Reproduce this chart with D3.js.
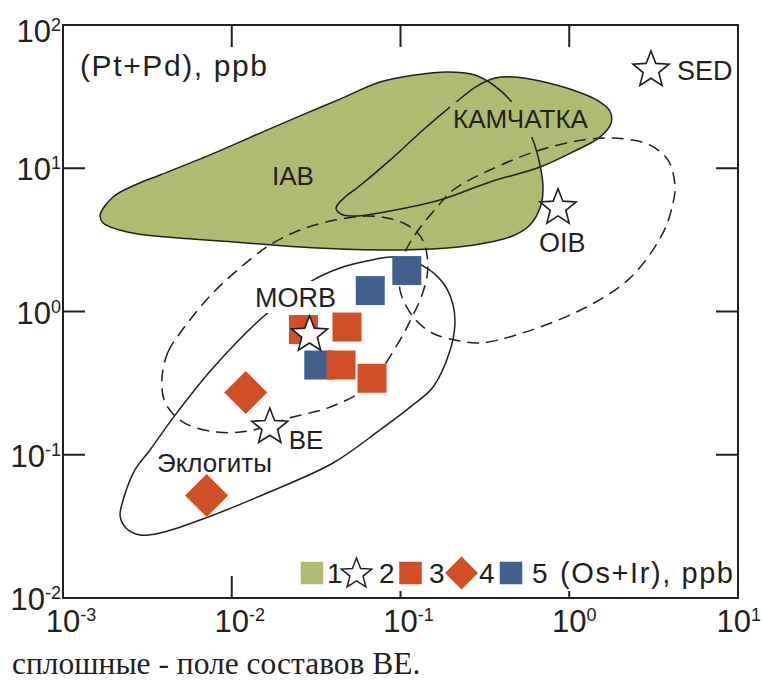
<!DOCTYPE html>
<html>
<head>
<meta charset="utf-8">
<script src="https://cdn.jsdelivr.net/npm/d3@7"></script>
<style>
  html, body { margin: 0; padding: 0; background: #fff; }
  svg { display: block; }
  text { font-family: "Liberation Sans", Arial, Helvetica, sans-serif; fill: #231f20; }
</style>
</head>
<body>
<svg id="chart" width="762" height="682"></svg>
<script>
// Axis decades (log10 of tick values)
const xDecades = [-3, -2, -1, 0, 1];
const yDecades = [-2, -1, 0, 1, 2];

// Field outlines, [Os+Ir, Pt+Pd] in ppb
const iabField = [
  [0.00166,4.72],[0.00198,6.30],[0.00267,7.64],[0.00376,8.97],[0.00743,12.4],[0.0147,17.6],
  [0.0254,23.2],[0.0438,30.4],[0.0756,40.0],[0.122,44.8],[0.189,47.0],[0.276,44.8],
  [0.363,37.5],[0.446,29.9],[0.525,22.4],[0.610,15.7],[0.671,10.5],[0.699,7.40],
  [0.680,5.54],[0.585,4.02],[0.446,3.31],[0.296,2.96],[0.189,2.78],[0.0756,2.69],
  [0.0254,2.82],[0.0102,3.06],[0.00413,3.31],[0.00240,3.59],[0.00173,4.15]
];
const kamchatkaField = [
  [0.0415,5.28],[0.0469,6.30],[0.0552,7.28],[0.0867,11.4],[0.136,18.5],[0.197,26.8],
  [0.284,37.5],[0.363,42.7],[0.477,43.4],[0.671,40.7],[1.05,35.2],[1.46,29.9],
  [1.74,25.1],[1.77,20.7],[1.52,16.5],[1.05,13.0],[0.671,10.2],[0.339,8.02],
  [0.171,6.00],[0.0867,5.03],[0.0552,4.64],[0.0444,4.79]
];
const morbField = [
  [0.00386,0.343],[0.00419,0.522],[0.00494,0.708],[0.00774,1.35],[0.0134,2.40],[0.0176,3.01],
  [0.0254,3.71],[0.0409,4.35],[0.0633,4.64],[0.0832,4.49],[0.104,4.15],[0.125,3.59],
  [0.138,3.01],[0.144,2.40],[0.144,1.80],[0.132,1.24],[0.117,0.915],[0.0993,0.632],
  [0.0633,0.297],[0.0382,0.215],[0.0221,0.181],[0.0128,0.147],[0.00818,0.144],
  [0.00514,0.169],[0.00402,0.233]
];
const oibField = [
  [0.0993,1.41],[0.101,1.95],[0.106,2.56],[0.125,3.59],[0.165,5.36],[0.205,7.05],
  [0.339,9.72],[0.671,13.4],[1.33,16.0],[2.14,16.0],[3.01,14.5],[3.85,11.4],
  [4.23,7.64],[4.12,5.72],[3.59,3.53],[2.29,1.71],[1.16,1.02],[0.464,0.675],
  [0.296,0.603],[0.225,0.622],[0.154,0.708],[0.119,0.915]
];
const beField = [
  [0.00218,0.0374],[0.00230,0.0507],[0.00267,0.0783],[0.00328,0.108],[0.00449,0.181],
  [0.00774,0.403],[0.0153,0.915],[0.0291,1.61],[0.0438,2.01],[0.0633,2.25],[0.0903,2.40],
  [0.136,2.08],[0.179,1.58],[0.205,1.11],[0.210,0.805],[0.197,0.538],[0.156,0.297],
  [0.114,0.215],[0.0756,0.149],[0.0398,0.0876],[0.0162,0.0541],[0.00649,0.0350],
  [0.00376,0.0284],[0.00286,0.0275],[0.00236,0.0308]
];

// Samples, [Os+Ir, Pt+Pd] in ppb
const series3 = [[0.0266,0.748],[0.0482,0.779],[0.0444,0.423],[0.0678,0.342]];
const series4 = [[0.0121,0.272],[0.0071,0.0519]];
const series5 = [[0.109,1.93],[0.0662,1.40],[0.0328,0.423]];

// Reservoir compositions (series 2)
const reservoirNames = ["MORB", "BE", "OIB", "SED"];
const reservoirValues = [[0.0289,0.688],[0.0168,0.156],[0.858,5.30],[3.05,48.5]];

const legendLabels = ["1", "2", "3", "4", "5"];
const xTitle = "(Os+Ir), ppb";
const yTitle = "(Pt+Pd), ppb";
const caption = "сплошные - поле составов BE.";

// ---------------------------------------------------------------
const GREEN = "#aebb70", RED = "#d24e27", BLUE = "#41608e", INK = "#231f20";
const L = 63, R = 738, T = 25, B = 598, W = 762;

const svg = d3.select("#chart");
const x = d3.scaleLog().domain([1e-3, 1e1]).range([L, R]);
const y = d3.scaleLog().domain([1e-2, 1e2]).range([B, T]);

const outline = d3.line()
  .x(d => x(d[0])).y(d => y(d[1]))
  .curve(d3.curveCatmullRomClosed.alpha(0.5));

function starPath(cx, cy, ro, ri) {
  const pts = [];
  for (let i = 0; i < 10; i++) {
    const a = -Math.PI / 2 + i * Math.PI / 5;
    const r = i % 2 ? ri : ro;
    pts.push([cx + r * Math.cos(a), cy + r * Math.sin(a)]);
  }
  return "M" + pts.map(p => p[0].toFixed(2) + "," + p[1].toFixed(2)).join("L") + "Z";
}
function diamondPath(cx, cy, h) {
  return `M${cx},${cy - h}L${cx + h},${cy}L${cx},${cy + h}L${cx - h},${cy}Z`;
}

// Inner tick marks on all four sides
const TICK = 22;
const ticks = svg.append("g").attr("stroke", INK).attr("stroke-width", 2);
xDecades.slice(1, -1).forEach(e => {
  const px = x(Math.pow(10, e));
  ticks.append("line").attr("x1", px).attr("x2", px).attr("y1", B).attr("y2", B - TICK);
  ticks.append("line").attr("x1", px).attr("x2", px).attr("y1", T).attr("y2", T + TICK);
});
yDecades.slice(1, -1).forEach(e => {
  const py = y(Math.pow(10, e));
  ticks.append("line").attr("x1", L).attr("x2", L + TICK).attr("y1", py).attr("y2", py);
  ticks.append("line").attr("x1", R).attr("x2", R - TICK).attr("y1", py).attr("y2", py);
});

// Island-arc fields: fills first, outlines on top
const fields = svg.append("g");
[iabField, kamchatkaField].forEach(f =>
  fields.append("path").attr("d", outline(f)).attr("fill", GREEN).attr("stroke", "none"));
[iabField, kamchatkaField].forEach(f =>
  fields.append("path").attr("d", outline(f)).attr("fill", "none")
    .attr("stroke", INK).attr("stroke-width", 1.5));

// Dashed MORB and OIB fields
[morbField, oibField].forEach(f =>
  fields.append("path").attr("d", outline(f)).attr("fill", "none")
    .attr("stroke", INK).attr("stroke-width", 1.5).attr("stroke-dasharray", "12,7"));

// Solid BE field
fields.append("path").attr("d", outline(beField)).attr("fill", "none")
  .attr("stroke", INK).attr("stroke-width", 1.5);

// Field labels
const labels = svg.append("g");
labels.append("rect").attr("x", 450).attr("y", 102).attr("width", 143).attr("height", 35).attr("fill", GREEN);
labels.append("text").attr("x", 453).attr("y", 128).attr("font-size", 26).text("КАМЧАТКА");
labels.append("text").attr("x", 272).attr("y", 185).attr("font-size", 26).text("IAB");
labels.append("rect").attr("x", 252).attr("y", 281).attr("width", 88).attr("height", 32).attr("fill", "#fff");
labels.append("text").attr("x", 255).attr("y", 307).attr("font-size", 27).text("MORB");
labels.append("text").attr("x", 157).attr("y", 472).attr("font-size", 26).text("Эклогиты");

// Samples
const SQ = 29;
const marks = svg.append("g");
marks.selectAll(".s5").data(series5).join("rect").attr("class", "s5")
  .attr("x", d => x(d[0]) - SQ / 2).attr("y", d => y(d[1]) - SQ / 2)
  .attr("width", SQ).attr("height", SQ).attr("fill", BLUE);
marks.selectAll(".s3").data(series3).join("rect").attr("class", "s3")
  .attr("x", d => x(d[0]) - SQ / 2).attr("y", d => y(d[1]) - SQ / 2)
  .attr("width", SQ).attr("height", SQ).attr("fill", RED);
marks.selectAll(".s4").data(series4).join("path").attr("class", "s4")
  .attr("d", d => diamondPath(x(d[0]), y(d[1]), 21.5)).attr("fill", RED);

// Reservoir stars with their names
const labelOffset = { MORB: null, BE: [19, 22], OIB: [-19, 44], SED: [26, 10] };
reservoirValues.forEach((d, i) => {
  const cx = x(d[0]), cy = y(d[1]);
  marks.append("path").attr("d", starPath(cx, cy, 19, 8.2))
    .attr("fill", "#fff").attr("stroke", INK).attr("stroke-width", 1.6)
    .attr("stroke-linejoin", "miter");
  const off = labelOffset[reservoirNames[i]];
  if (off) {
    marks.append("text").attr("x", cx + off[0]).attr("y", cy + off[1])
      .attr("font-size", reservoirNames[i] === "BE" ? 26 : 27).text(reservoirNames[i]);
  }
});

// Y title
svg.append("text").attr("x", 80).attr("y", 76).attr("font-size", 30)
  .attr("textLength", 187).attr("lengthAdjust", "spacing").text(yTitle);

// Legend strip along the bottom axis
const lg = svg.append("g");
lg.append("rect").attr("x", 296).attr("y", 553).attr("width", 442).attr("height", 38).attr("fill", "#fff");
const LY = 573, LB = 583, LS = 22.5;
lg.append("rect").attr("x", 312 - LS / 2).attr("y", LY - LS / 2).attr("width", LS).attr("height", LS).attr("fill", GREEN);
lg.append("path").attr("d", starPath(356.5, 574, 16, 6.9)).attr("fill", "#fff")
  .attr("stroke", INK).attr("stroke-width", 1.5);
lg.append("rect").attr("x", 410.5 - LS / 2).attr("y", LY - LS / 2).attr("width", LS).attr("height", LS).attr("fill", RED);
lg.append("path").attr("d", diamondPath(461.5, LY, 16.5)).attr("fill", RED);
lg.append("rect").attr("x", 511 - LS / 2).attr("y", LY - LS / 2).attr("width", LS).attr("height", LS).attr("fill", BLUE);
const legendX = [327, 379, 429, 479, 532];
legendLabels.forEach((t, i) =>
  lg.append("text").attr("x", legendX[i]).attr("y", LB).attr("font-size", 28).text(t));
lg.append("text").attr("x", 560).attr("y", LB).attr("font-size", 29)
  .attr("textLength", 173).attr("lengthAdjust", "spacing").text(xTitle);

// Frame
svg.append("rect").attr("x", L).attr("y", T).attr("width", R - L).attr("height", B - T)
  .attr("fill", "none").attr("stroke", INK).attr("stroke-width", 2);

// Tick labels: 10 with superscript exponent
yDecades.forEach(e => {
  const py = y(Math.pow(10, e));
  const t = svg.append("text").attr("x", 61).attr("y", Math.max(py + 12, 42))
    .attr("text-anchor", "end").attr("font-size", 31);
  t.append("tspan").text("10");
  t.append("tspan").attr("font-size", 18).attr("dy", -11).text(String(e));
});
xDecades.forEach(e => {
  const px = x(Math.pow(10, e));
  const base = svg.append("text").attr("y", 632)
    .attr("text-anchor", "middle").attr("font-size", 31).text("10");
  const sup = svg.append("text").attr("y", 621).attr("font-size", 18).text(String(e));
  const w = base.node().getComputedTextLength();
  const sw = sup.node().getComputedTextLength();
  // the "10" is centred on its tick unless the label would run off the page
  const cx = Math.min(px, W - 1 - sw - w / 2);
  base.attr("x", cx);
  sup.attr("x", cx + w / 2);
});

// Caption
svg.append("text").attr("x", 12).attr("y", 674)
  .style("font-family", '"Liberation Serif", "Times New Roman", serif')
  .attr("font-size", 31.5).text(caption);
</script>
</body>
</html>
